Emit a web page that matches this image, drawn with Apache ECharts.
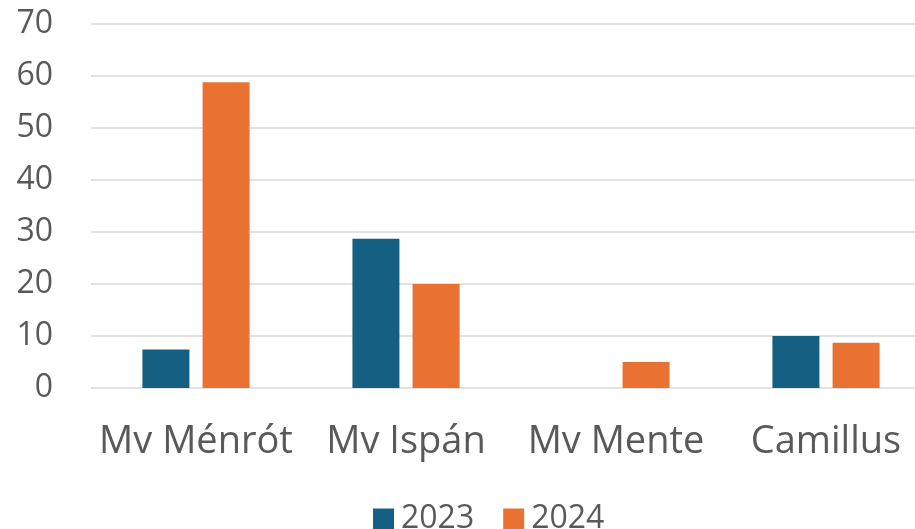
<!DOCTYPE html>
<html>
<head>
<meta charset="utf-8">
<script src="https://cdn.jsdelivr.net/npm/echarts@6/dist/echarts.min.js"></script>
<style>
  html, body { margin: 0; padding: 0; background: #fff; overflow: hidden; }
  #myChart { width: 940px; height: 529px; }
</style>
</head>
<body>
<div id="myChart"></div>
<script>
// chart data
const categories = ['Mv Ménrót', 'Mv Ispán', 'Mv Mente', 'Camillus']
const seriesNames = ['2023', '2024']
const values2023 = [7.4, 28.7, 0, 10]
const values2024 = [58.8, 20, 5, 8.7]
const yTicks = { min: 0, max: 70, interval: 10 }

const labelColor = '#595959'
const fontFamily = '"Open Sans", sans-serif'

// the plot runs a bit past the right edge of the window, like the original
let myChart = echarts.init(document.getElementById('myChart'))

myChart.setOption({
  animation: false,
  textStyle: { fontFamily: fontFamily },
  legend: {
    data: seriesNames,
    top: 498,
    left: 368,
    itemWidth: 21,
    itemHeight: 21,
    itemGap: 29,
    icon: 'rect',
    textStyle: { fontSize: 32, color: labelColor, fontFamily: fontFamily, padding: [0, 0, 0, 2] }
  },
  grid: {
    left: 91,
    top: 24,
    right: 9,
    height: 364
  },
  xAxis: {
    type: 'category',
    data: categories,
    axisLine: { show: false },
    axisTick: { show: false },
    axisLabel: {
      interval: 0,
      margin: 35,
      fontSize: 38,
      color: labelColor,
      fontFamily: fontFamily
    }
  },
  yAxis: {
    type: 'value',
    min: yTicks.min,
    max: yTicks.max,
    interval: yTicks.interval,
    axisLine: { show: false },
    axisTick: { show: false },
    axisLabel: {
      margin: 38,
      fontSize: 32,
      color: labelColor,
      fontFamily: fontFamily
    },
    splitLine: { lineStyle: { color: '#d9d9d9', width: 1.5 } }
  },
  series: [
    {
      name: seriesNames[0],
      type: 'bar',
      barWidth: 47,
      barGap: '28%',
      itemStyle: { color: '#156082' },
      data: values2023
    },
    {
      name: seriesNames[1],
      type: 'bar',
      barWidth: 47,
      barGap: '28%',
      itemStyle: { color: '#E97132' },
      data: values2024
    }
  ]
})
</script>
</body>
</html>
